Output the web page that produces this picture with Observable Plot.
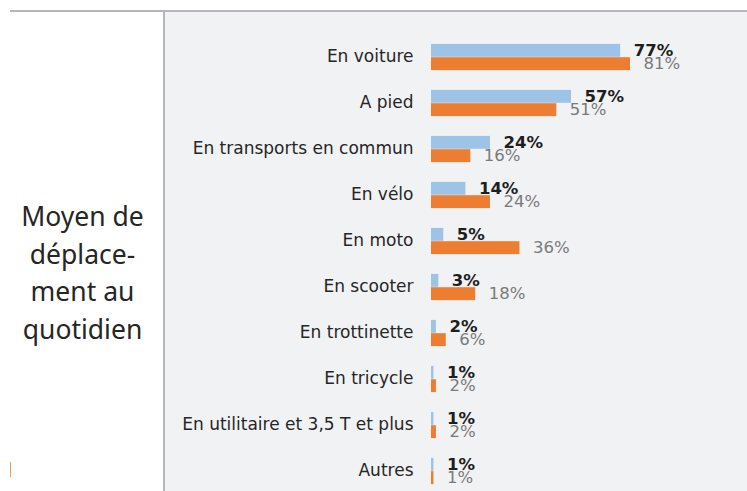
<!DOCTYPE html>
<html>
<head>
<meta charset="utf-8">
<script src="https://cdn.jsdelivr.net/npm/d3@7"></script>
<script src="https://cdn.jsdelivr.net/npm/@observablehq/plot@0.6"></script>
<style>
  html, body { margin: 0; padding: 0; background: #ffffff; }
  #wrap { position: relative; width: 747px; height: 491px; overflow: hidden; }
  #panel { position: absolute; left: 165px; top: 12px; width: 582px; height: 479px; background: #f1f2f4; }
  #hline { position: absolute; left: 10px; top: 10px; width: 737px; height: 2px; background: #b7b7bb; }
  #vline { position: absolute; left: 163px; top: 10px; width: 2px; height: 481px; background: #b7b7bb; }
  #mark { position: absolute; left: 10px; top: 462px; width: 1px; height: 15px; background: #e0a050; }
  #side { position: absolute; left: 0; top: 198px; width: 165px; text-align: center;
          font-family: "Noto Sans", sans-serif; font-size: 26.5px; line-height: 37.5px; color: #262626; }
  #chart { position: absolute; left: 0; top: 0; }
</style>
</head>
<body>
<div id="wrap">
  <div id="panel"></div>
  <div id="hline"></div>
  <div id="vline"></div>
  <div id="mark"></div>
  <div id="side">Moyen de<br>déplace-<br>ment au<br>quotidien</div>
  <div id="chart"></div>
</div>
<script>
const categories = [
  "En voiture", "A pied", "En transports en commun", "En vélo", "En moto",
  "En scooter", "En trottinette", "En tricycle", "En utilitaire et 3,5 T et plus", "Autres"
];
const seriesBlue = [77, 57, 24, 14, 5, 3, 2, 1, 1, 1];
const seriesOrange = [81, 51, 16, 24, 36, 18, 6, 2, 2, 1];

const blueData = categories.map((c, i) => ({cat: c, v: seriesBlue[i]}));
const orangeData = categories.map((c, i) => ({cat: c, v: seriesOrange[i]}));

const font = "'Century Gothic', 'DejaVu Sans', sans-serif";

const chart = Plot.plot({
  width: 747,
  height: 491,
  margin: 0,
  style: {background: "transparent", overflow: "visible", fontFamily: font},
  x: {domain: [0, 100], range: [431, 676.7], axis: null},
  y: {domain: categories, range: [31.8, 495.5], padding: 0, axis: null},
  marks: [
    Plot.barX(blueData, {y: "cat", x: "v", fill: "#9dc3e6", insetTop: 9.9, insetBottom: 23.2}),
    Plot.barX(orangeData, {y: "cat", x: "v", fill: "#ed7d31", insetTop: 23.2, insetBottom: 9.9}),
    Plot.text(categories, {y: d => d, x: 0, text: d => d, textAnchor: "end", dx: -18, dy: -0.5,
      fontSize: 17, fill: "#262626", fontFamily: font}),
    Plot.text(blueData, {y: "cat", x: "v", text: d => d.v + "%", textAnchor: "start", dx: 13, dy: -6.6,
      fontSize: 16.5, fontWeight: "bold", fill: "#1e1e1e", fontFamily: font}),
    Plot.text(orangeData, {y: "cat", x: "v", text: d => d.v + "%", textAnchor: "start", dx: 13, dy: 6.6,
      fontSize: 16.5, fill: "#7a7a7a", fontFamily: font})
  ]
});
document.getElementById("chart").appendChild(chart);
</script>
</body>
</html>
